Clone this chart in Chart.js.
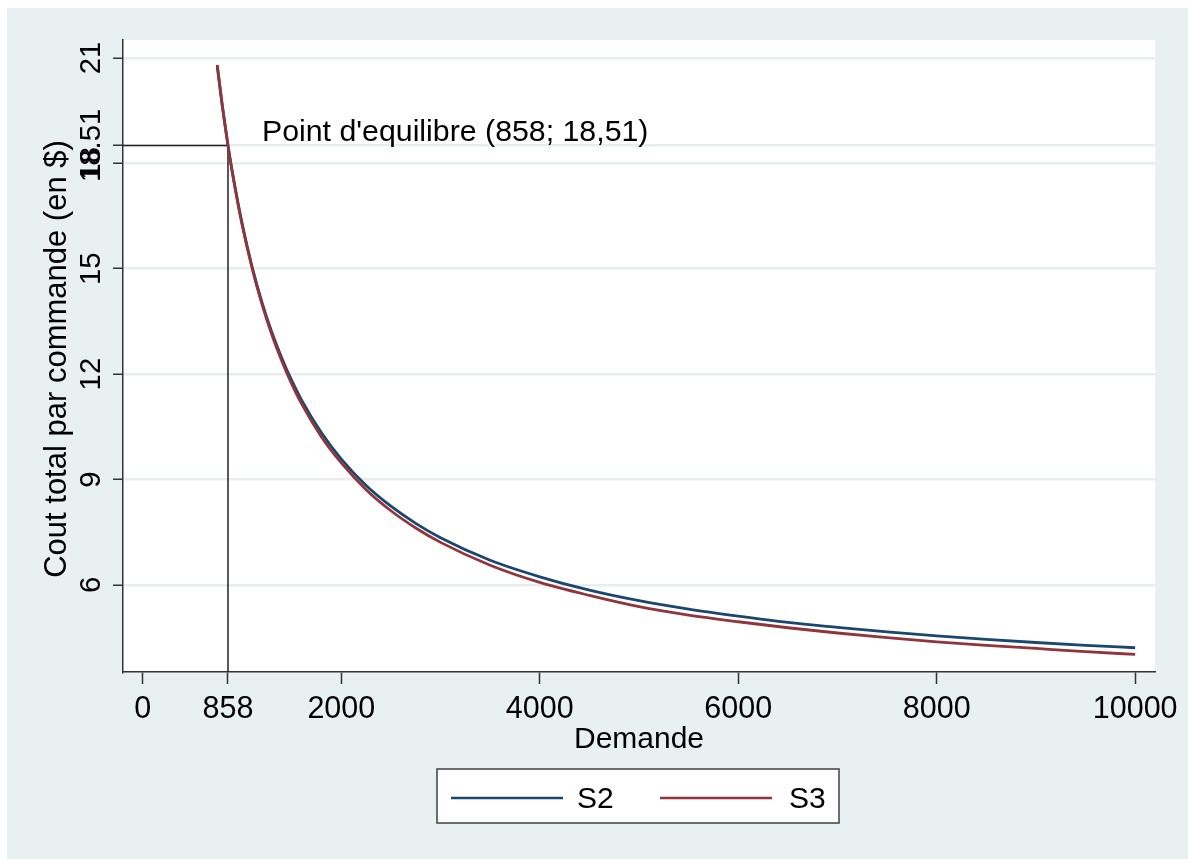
<!DOCTYPE html>
<html>
<head>
<meta charset="utf-8">
<script src="https://cdn.jsdelivr.net/npm/chart.js@4.4.0/dist/chart.umd.min.js"></script>
<style>
    html, body { margin: 0; padding: 0; background: #fff; }
    #wrap { width: 1188px; height: 859px; position: relative; }
</style>
</head>
<body>
<div id="wrap"><canvas id="coutChart"></canvas></div>
<script>
// Demande et cout total par commande pour les deux scenarios
const demand = [750, 800, 858, 900, 1000, 1100, 1200, 1300, 1400, 1500, 1600, 1800, 2000, 2250, 2500, 2750, 3000, 3500, 4000, 4500, 5000, 5500, 6000, 6500, 7000, 7500, 8000, 8500, 9000, 9500, 10000];
const coutS2 = [20.76, 19.65, 18.51, 17.78, 16.29, 15.07, 14.05, 13.19, 12.46, 11.82, 11.26, 10.33, 9.58, 8.83, 8.24, 7.75, 7.34, 6.70, 6.23, 5.85, 5.55, 5.31, 5.11, 4.93, 4.79, 4.66, 4.55, 4.45, 4.36, 4.28, 4.21];
const coutS3 = [20.80, 19.66, 18.51, 17.77, 16.26, 15.02, 13.99, 13.12, 12.37, 11.72, 11.15, 10.21, 9.47, 8.71, 8.11, 7.62, 7.21, 6.56, 6.07, 5.70, 5.38, 5.14, 4.95, 4.78, 4.63, 4.50, 4.38, 4.28, 4.19, 4.10, 4.02];

const xTicks = [0, 858, 2000, 4000, 6000, 8000, 10000];
const yTicks = [6, 9, 12, 15, 18, 18.51, 21];

// Point d'equilibre
const eqDemand = 858;
const eqCout = 18.51;
const eqLabel = "Point d'equilibre (858; 18,51)";

const FONT = "'Liberation Sans', Arial, sans-serif";
const BG = '#e8f0f2';
const GRID = '#e6eef0';
const AXIS = '#333333';

function toPoints(xs, ys) {
    return xs.map((x, i) => ({ x: x, y: ys[i] }));
}

// Fond gris-bleu + zone de trace blanche
const backgroundPlugin = {
    id: 'background',
    beforeDraw(chart) {
        const ctx = chart.ctx;
        const a = chart.chartArea;
        ctx.save();
        ctx.fillStyle = '#ffffff';
        ctx.fillRect(0, 0, chart.width, chart.height);
        ctx.fillStyle = BG;
        ctx.fillRect(7, 8, chart.width - 7, chart.height - 8);
        ctx.fillStyle = '#ffffff';
        ctx.fillRect(a.left, a.top, a.right - a.left, a.bottom - a.top);
        ctx.restore();
    }
};

// Lignes du point d'equilibre
const equilibrePlugin = {
    id: 'equilibre',
    beforeDatasetsDraw(chart) {
        const ctx = chart.ctx;
        const xs = chart.scales.x, ys = chart.scales.y;
        const px = xs.getPixelForValue(eqDemand);
        const py = ys.getPixelForValue(eqCout);
        ctx.save();
        ctx.strokeStyle = '#222';
        ctx.lineWidth = 1.5;
        ctx.beginPath();
        ctx.moveTo(chart.chartArea.left, py);
        ctx.lineTo(px, py);
        ctx.lineTo(px, chart.chartArea.bottom);
        ctx.stroke();
        ctx.restore();
    }
};

// Textes : graduations, titres, annotation, legende
const labelsPlugin = {
    id: 'labels',
    afterDraw(chart) {
        const ctx = chart.ctx;
        const xs = chart.scales.x, ys = chart.scales.y;
        const a = chart.chartArea;
        ctx.save();
        ctx.fillStyle = '#000';
        ctx.textBaseline = 'alphabetic';

        // graduations x
        ctx.font = '30.5px ' + FONT;
        ctx.textAlign = 'center';
        xTicks.forEach(v => {
            ctx.fillText(String(v), xs.getPixelForValue(v), 718);
        });

        // graduations y (texte vertical)
        ctx.font = '29.3px ' + FONT;
        yTicks.forEach(v => {
            ctx.save();
            ctx.translate(100, ys.getPixelForValue(v));
            ctx.rotate(-Math.PI / 2);
            ctx.fillText(String(v), 0, 0);
            ctx.restore();
        });

        // titres des axes
        ctx.font = '30px ' + FONT;
        ctx.fillText('Demande', (a.left + a.right) / 2, 748);
        ctx.save();
        ctx.translate(66, (a.top + a.bottom) / 2 + 3);
        ctx.rotate(-Math.PI / 2);
        ctx.font = '31px ' + FONT;
        ctx.fillText('Cout total par commande (en $)', 0, 0);
        ctx.restore();

        // annotation
        ctx.textAlign = 'left';
        ctx.font = '30.3px ' + FONT;
        ctx.fillText(eqLabel, xs.getPixelForValue(eqDemand) + 34, ys.getPixelForValue(eqCout) - 4);

        // legende
        ctx.fillStyle = '#fff';
        ctx.fillRect(437, 769, 402, 54);
        ctx.strokeStyle = '#404040';
        ctx.lineWidth = 1.5;
        ctx.strokeRect(437, 769, 402, 54);
        const entries = [[451, 577], [660, 789]];
        chart.data.datasets.forEach((ds, i) => {
            const [lx, tx] = entries[i];
            ctx.strokeStyle = ds.borderColor;
            ctx.lineWidth = 2.5;
            ctx.beginPath();
            ctx.moveTo(lx, 798);
            ctx.lineTo(lx + 112, 798);
            ctx.stroke();
            ctx.fillStyle = '#000';
            ctx.font = '30px ' + FONT;
            ctx.fillText(ds.label, tx, 808);
        });
        ctx.restore();
    }
};

const chart = new Chart(document.getElementById('coutChart'), {
    type: 'line',
    data: {
        datasets: [
            {
                label: 'S2',
                data: toPoints(demand, coutS2),
                borderColor: '#1a476f',
                borderWidth: 2.8,
                pointRadius: 0,
                cubicInterpolationMode: 'monotone',
                order: 1
            },
            {
                label: 'S3',
                data: toPoints(demand, coutS3),
                borderColor: '#90353b',
                borderWidth: 2.8,
                pointRadius: 0,
                cubicInterpolationMode: 'monotone',
                order: 0
            }
        ]
    },
    options: {
        responsive: true,
        maintainAspectRatio: false,
        animation: false,
        layout: { padding: { left: 0, top: 40, right: 33, bottom: 0 } },
        plugins: {
            legend: { display: false },
            tooltip: { enabled: false }
        },
        scales: {
            x: {
                type: 'linear',
                min: -200,
                max: 10200,
                afterBuildTicks: scale => { scale.ticks = xTicks.map(v => ({ value: v })); },
                afterFit: scale => { scale.height = 187; },
                ticks: { display: false },
                grid: {
                    drawOnChartArea: false,
                    tickLength: 12,
                    tickColor: AXIS,
                    tickWidth: 1.5
                },
                border: { color: AXIS, width: 1.5 }
            },
            y: {
                type: 'linear',
                min: 3.52,
                max: 21.51,
                afterBuildTicks: scale => { scale.ticks = yTicks.map(v => ({ value: v })); },
                afterFit: scale => { scale.width = 123; },
                ticks: { display: false },
                grid: {
                    color: GRID,
                    lineWidth: 2.5,
                    tickLength: 10,
                    tickColor: AXIS,
                    tickWidth: 1.5
                },
                border: { color: AXIS, width: 1.5 }
            }
        }
    },
    plugins: [backgroundPlugin, equilibrePlugin, labelsPlugin]
});
</script>
</body>
</html>
